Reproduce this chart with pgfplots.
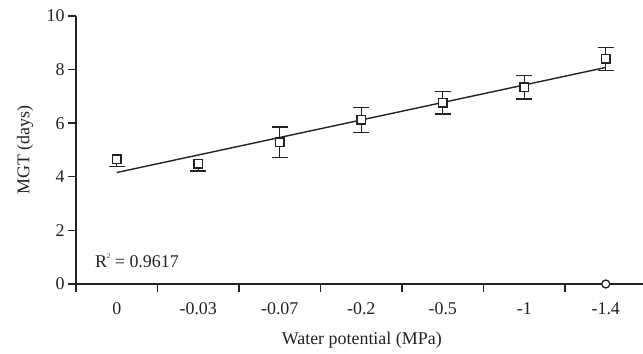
\documentclass[border=0pt]{standalone}
\usepackage{pgfplots}
\pgfplotsset{compat=1.18}
\usepackage{fontspec}
\setmainfont{Liberation Serif}
\definecolor{ink}{HTML}{222222}
\begin{document}
\begin{tikzpicture}[font=\fontsize{18}{21}\selectfont]
\path[use as bounding box] (-76bp,-70bp) rectangle (567bp,284bp);
\begin{axis}[
  at={(0,0)}, anchor=south west,
  scale only axis, width=567bp, height=268bp,
  xmin=0.5, xmax=7.457, ymin=0, ymax=10,
  clip=false,
  axis lines=left,
  axis line style={ink, line width=1.4bp, -},
  tick align=outside,
  major tick length=8bp,
  tick style={ink, line width=1.4bp},
  xtick={0.5,1.5,2.5,3.5,4.5,5.5,6.5},
  xticklabels={},
  extra x ticks={1,2,3,4,5,6,7},
  extra x tick labels={0,-0.03,-0.07,-0.2,-0.5,-1,-1.4},
  extra x tick style={major tick length=0pt, tick label style={yshift=-15bp}},
  ytick={0,2,4,6,8,10},
  /pgf/number format/assume math mode=true,
  yticklabel style={ink},
  xticklabel style={ink},
  xlabel={Water potential (MPa)},
  ylabel={MGT (days)},
  every axis x label/.style={at={(axis description cs:0.504,-0.209)}, anchor=center, ink},
  every axis y label/.style={at={(axis description cs:-0.09,0.5)}, rotate=90, anchor=center, ink},
]
\addplot[ink, line width=1.4bp] coordinates {(1,4.16) (7,8.08)};
\addplot[ink, only marks, mark=square*, mark size=4.2bp,
  mark options={fill=white, draw=ink, line width=1.4bp},
  error bars/.cd, y dir=minus, y explicit,
  error bar style={ink, line width=1.4bp},
  error mark options={rotate=90, mark size=8bp, line width=1.4bp, ink}]
  coordinates {(1,4.65) +- (0,0.27) (2,4.48) +- (0,0.27)};
\addplot[ink, only marks, mark=square*, mark size=4.2bp,
  mark options={fill=white, draw=ink, line width=1.4bp},
  error bars/.cd, y dir=both, y explicit,
  error bar style={ink, line width=1.4bp},
  error mark options={rotate=90, mark size=8bp, line width=1.4bp, ink}]
  coordinates {(3,5.29) +- (0,0.57) (4,6.12) +- (0,0.46) (5,6.76) +- (0,0.42)
               (6,7.34) +- (0,0.43) (7,8.40) +- (0,0.43)};
\addplot[ink, only marks, mark=*, mark size=4bp,
  mark options={fill=white, draw=ink, line width=1.3bp}]
  coordinates {(7,0)};
\node[anchor=base west, ink] at (axis cs:0.69,0.6)
  {R\raisebox{0.5em}{\fontsize{7}{7}\selectfont 2}\ = 0.9617};
\end{axis}
\end{tikzpicture}
\end{document}
